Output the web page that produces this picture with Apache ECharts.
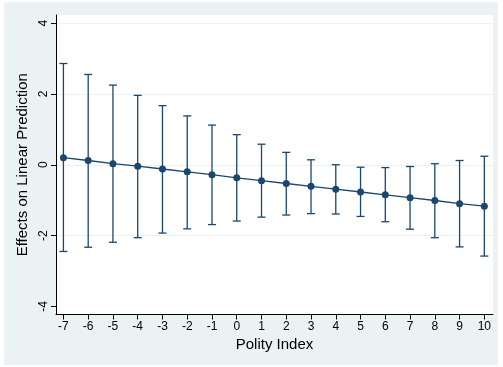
<!DOCTYPE html>
<html>
<head>
<meta charset="utf-8">
<script src="https://cdn.jsdelivr.net/npm/echarts@6/dist/echarts.min.js"></script>
<style>
  html, body { margin: 0; padding: 0; background: #fff; }
  #chart { width: 503px; height: 367px; }
</style>
</head>
<body>
<div id="chart"></div>
<script>
// polity index values on the x axis
var polity = [-7, -6, -5, -4, -3, -2, -1, 0, 1, 2, 3, 4, 5, 6, 7, 8, 9, 10];
// point estimates (effects on linear prediction)
var effect = [0.20, 0.12, 0.03, -0.04, -0.12, -0.20, -0.28, -0.37, -0.45, -0.53, -0.61, -0.69, -0.77, -0.85, -0.93, -1.01, -1.10, -1.17];
// confidence interval bounds
var upper = [2.86, 2.55, 2.25, 1.96, 1.67, 1.38, 1.12, 0.85, 0.58, 0.35, 0.14, 0.00, -0.07, -0.08, -0.05, 0.03, 0.12, 0.24];
var lower = [-2.45, -2.33, -2.19, -2.06, -1.93, -1.81, -1.69, -1.59, -1.48, -1.42, -1.38, -1.39, -1.46, -1.61, -1.82, -2.06, -2.32, -2.58];
var yTicks = [-4, -2, 0, 2, 4];

var navy = '#1a476f';
var font = '"Liberation Sans", Arial, sans-serif';

var myChart = echarts.init(document.getElementById('chart'));

var pts = polity.map(function (x, i) { return [x, effect[i]]; });
var bars = polity.map(function (x, i) { return [x, lower[i], upper[i]]; });

var option = {
    animation: false,
    backgroundColor: '#fff',
    graphic: [{
        type: 'rect',
        shape: { x: 4, y: 2, width: 494, height: 363 },
        style: { fill: '#eaf2f3' },
        z: -10
    }],
    grid: {
        left: 56, top: 15, right: 10, bottom: 52.5,
        show: true,
        backgroundColor: '#fff',
        borderWidth: 0
    },
    xAxis: {
        type: 'value',
        min: -7.3,
        max: 10.35,
        name: 'Polity Index',
        nameLocation: 'middle',
        nameGap: 20,
        nameTextStyle: { fontFamily: font, fontSize: 15, color: '#000' },
        axisLine: { show: true, onZero: false, lineStyle: { color: '#000', width: 1 } },
        axisTick: { show: true, length: 5, customValues: polity, lineStyle: { color: '#000' } },
        axisLabel: { customValues: polity, margin: 6, fontFamily: font, fontSize: 12, color: '#000' },
        splitLine: { show: false }
    },
    yAxis: {
        type: 'value',
        min: -4.23,
        max: 4.23,
        name: 'Effects on Linear Prediction',
        nameLocation: 'middle',
        nameGap: 21,
        nameTextStyle: { fontFamily: font, fontSize: 15, color: '#000' },
        axisLine: { show: true, onZero: false, lineStyle: { color: '#000', width: 1 } },
        axisTick: { show: true, length: 5, customValues: yTicks, lineStyle: { color: '#000' } },
        axisLabel: { customValues: yTicks, rotate: 90, margin: 6, fontFamily: font, fontSize: 12, color: '#000' },
        splitLine: {
            show: true,
            lineStyle: { color: ['rgba(0,0,0,0)', '#eaf2f3', '#eaf2f3', '#eaf2f3', '#eaf2f3'], width: 1 }
        }
    },
    series: [{
        type: 'custom',
        data: bars,
        z: 2,
        renderItem: function (params, api) {
            var x = api.value(0);
            var lo = api.coord([x, api.value(1)]);
            var hi = api.coord([x, api.value(2)]);
            var w = 4;
            var st = { stroke: navy, lineWidth: 1.3 };
            return {
                type: 'group',
                children: [
                    { type: 'line', shape: { x1: lo[0], y1: lo[1], x2: hi[0], y2: hi[1] }, style: st },
                    { type: 'line', shape: { x1: lo[0] - w, y1: lo[1], x2: lo[0] + w, y2: lo[1] }, style: st },
                    { type: 'line', shape: { x1: hi[0] - w, y1: hi[1], x2: hi[0] + w, y2: hi[1] }, style: st }
                ]
            };
        }
    }, {
        type: 'line',
        data: pts,
        z: 3,
        symbol: 'circle',
        symbolSize: 7,
        lineStyle: { color: navy, width: 1.3 },
        itemStyle: { color: navy }
    }]
};
myChart.setOption(option, true);
window.addEventListener('resize', function () {
    myChart.resize();
});
</script>
</body>
</html>
